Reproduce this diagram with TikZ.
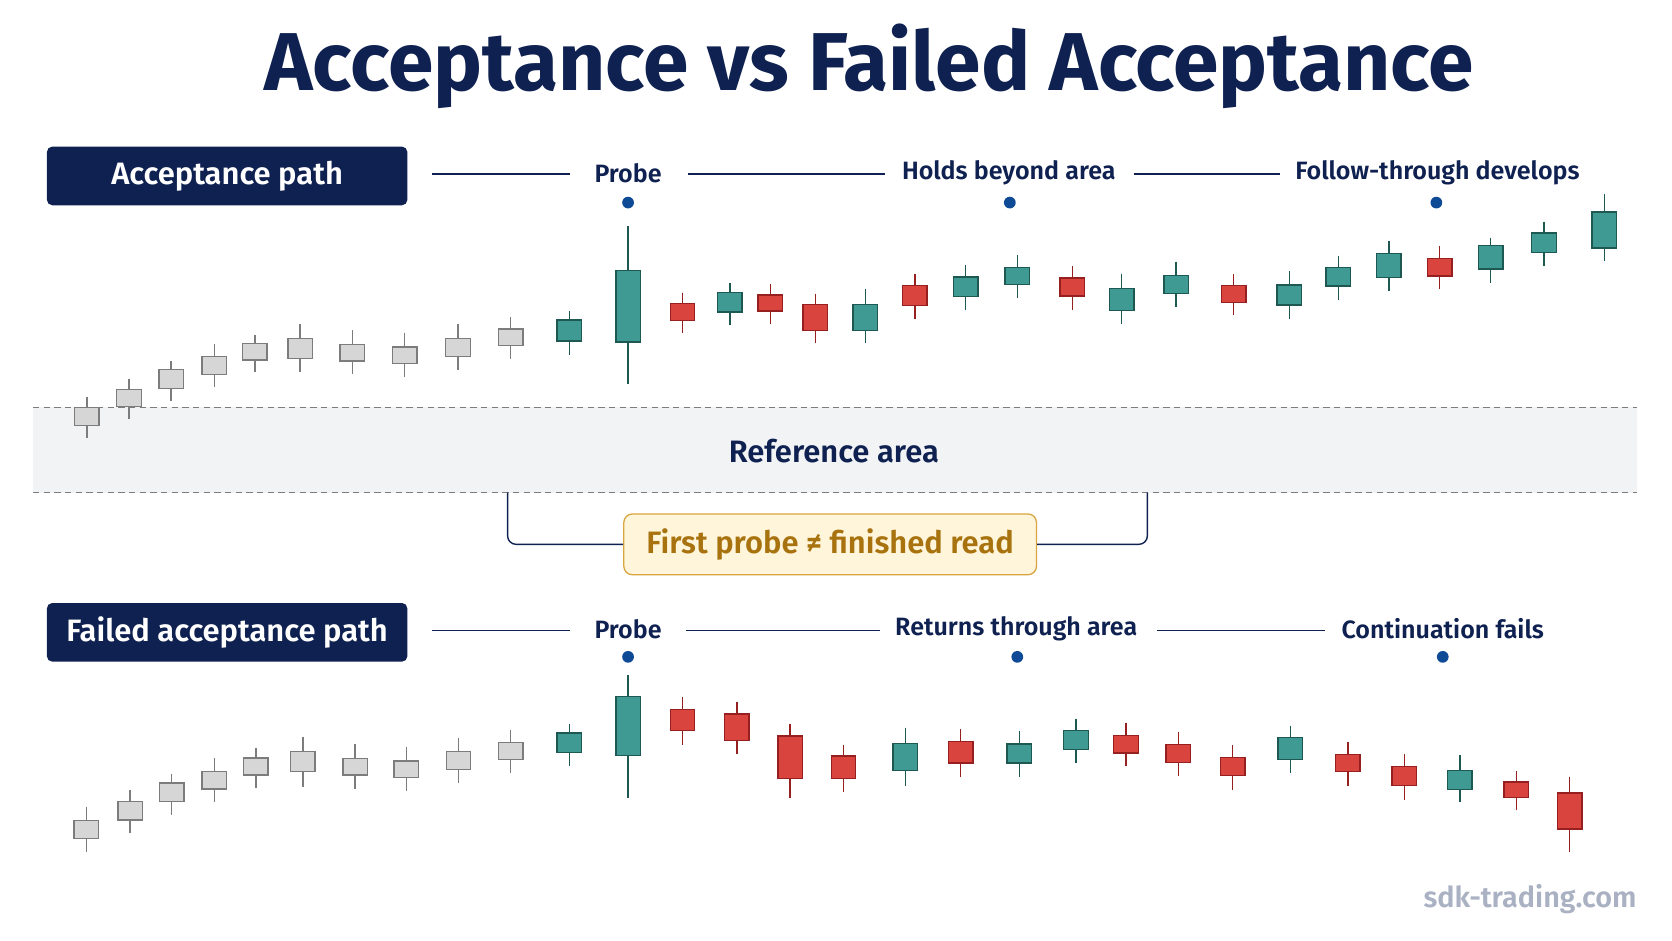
\documentclass[tikz,border=0pt]{standalone}
\usepackage{fontspec}
\setmainfont{Fira Sans}
\newfontface\semib{Fira Sans SemiBold}
\newfontface\fbold{Fira Sans Bold}
\definecolor{navy}{HTML}{0F2150}
\definecolor{dotblue}{HTML}{0E4A96}
\definecolor{tealf}{HTML}{3E9A92}
\definecolor{tealb}{HTML}{1E5853}
\definecolor{redf}{HTML}{D9443E}
\definecolor{redb}{HTML}{962020}
\definecolor{grayf}{HTML}{D6D6D6}
\definecolor{grayb}{HTML}{7C7C7C}
\definecolor{bandf}{HTML}{F2F3F5}
\definecolor{goldf}{HTML}{FFF5DA}
\definecolor{goldb}{HTML}{D8A640}
\definecolor{goldt}{HTML}{A8730F}
\definecolor{wm}{HTML}{A9B1C2}
\tikzset{
 G/.style={fill=grayf,draw=grayb},
 T/.style={fill=tealf,draw=tealb},
 R/.style={fill=redf,draw=redb},
 pathbox/.style={fill=navy,rounded corners=5pt,text=white,font=\semib\fontsize{29}{32}\selectfont,minimum width=338pt,minimum height=55pt,inner sep=0pt},
 lbl/.style={text=navy,font=\semib\fontsize{23.5}{26}\selectfont,inner sep=0pt},
 conn/.style={draw=navy,line width=1.3pt},
}
\newcommand\cand[6]{%
 \draw[#6,line width=1.3pt] (#1,#2) -- (#1,#5);
 \draw[#6,line width=1.3pt] ([xshift=-11.5pt]#1,#3) rectangle ([xshift=11.5pt]#1,#4);}
\begin{document}
\begin{tikzpicture}[x=1pt,y=-1pt]
\useasboundingbox[fill=white] (0,0) rectangle (1568,882);
\node[text=navy,font=\fbold\fontsize{77}{80}\selectfont] (title) at (815,62) {Acceptance vs Failed Acceptance};
% reference band
\fill[bandf] (31,382) rectangle (1535,462);
\draw[grayb,dashed,line width=1.2pt,dash pattern=on 6pt off 4pt] (31,382) -- (1535,382);
\draw[grayb,dashed,line width=1.2pt,dash pattern=on 6pt off 4pt] (31,462) -- (1535,462);
\node[text=navy,font=\semib\fontsize{29}{32}\selectfont] (ref) at (782,423) {Reference area};
% bracket
\node[fill=goldf,draw=goldb,line width=1.2pt,rounded corners=8pt,minimum width=387pt,minimum height=57pt,text=goldt,font=\semib\fontsize{29}{32}\selectfont] (fp) at (778.5,510.5) {First probe ≠ finished read};
\coordinate (bl) at (476,462); \coordinate (br) at (1076,462);
\draw[conn,rounded corners=8pt] (bl) |- (fp.west);
\draw[conn,rounded corners=8pt] (br) |- (fp.east);
% top labels
\node[pathbox] (ap) at (213,165) {Acceptance path};
\node[lbl] (p1) at (589,162) {Probe};
\node[lbl] (h1) at (946,162) {Holds beyond area};
\node[lbl] (f1) at (1348,162) {Follow-through develops};
\coordinate (a1) at (405,163); \coordinate (a2) at (535,163);
\coordinate (a3) at (645,163); \coordinate (a4) at (830,163);
\coordinate (a5) at (1063,163); \coordinate (a6) at (1200,163);
\draw[conn] (a1)--(a2); \draw[conn] (a3)--(a4); \draw[conn] (a5)--(a6);
\fill[dotblue] (589,190) circle (5.5pt) (947,190) circle (5.5pt) (1347,190) circle (5.5pt);
% bottom labels
\node[pathbox] (fa) at (213,593) {Failed acceptance path};
\node[lbl] (p2) at (589,590) {Probe};
\node[lbl] (r2) at (953,590) {Returns through area};
\node[lbl] (c2) at (1353,590) {Continuation fails};
\coordinate (b1) at (405,591); \coordinate (b2) at (535,591);
\coordinate (b3) at (643,591); \coordinate (b4) at (825,591);
\coordinate (b5) at (1085,591); \coordinate (b6) at (1243,591);
\draw[conn] (b1)--(b2); \draw[conn] (b3)--(b4); \draw[conn] (b5)--(b6);
\fill[dotblue] (589,616) circle (5.5pt) (954,616) circle (5.5pt) (1353,616) circle (5.5pt);
% top candles
\begin{scope}[shift={(0pt,-140.7pt)},x=0.5pt,y=-0.3126pt]
\cand{163}{740}{773}{826}{865}{G}
\cand{242}{686}{719}{770}{808}{G}
\cand{321}{633}{658}{716}{752}{G}
\cand{402}{583}{620}{673}{710}{G}
\cand{478}{556}{580}{630}{665}{G}
\cand{563}{522}{565}{625}{667}{G}
\cand{661}{540}{583}{633}{673}{G}
\cand{759}{548}{591}{640}{680}{G}
\cand{859}{523}{565}{619}{660}{G}
\cand{958}{502}{537}{587}{626}{G}
\cand{1068}{482}{510}{573}{616}{T}
\cand{1178}{228}{362}{576}{701}{T}
\cand{1280}{428}{461}{511}{550}{R}
\cand{1369}{399}{428}{486}{526}{T}
\cand{1445}{401}{435}{483}{523}{R}
\cand{1529}{431}{463}{541}{579}{R}
\end{scope}
\begin{scope}[shift={(784pt,-140.7pt)},x=0.5pt,y=-0.3126pt]
\cand{55}{416}{464}{541}{578}{T}
\cand{148}{372}{407}{466}{506}{R}
\cand{243}{346}{381}{439}{481}{T}
\cand{340}{314}{352}{403}{444}{T}
\cand{443}{348}{384}{438}{480}{R}
\cand{536}{371}{416}{482}{523}{T}
\cand{638}{335}{376}{431}{470}{T}
\cand{746}{372}{407}{457}{496}{R}
\cand{850}{363}{405}{465}{506}{T}
\cand{942}{317}{353}{408}{451}{T}
\cand{1037}{274}{311}{382}{423}{T}
\cand{1132}{288}{326}{378}{416}{R}
\cand{1228}{263}{286}{357}{398}{T}
\cand{1328}{215}{249}{308}{349}{T}
\cand{1441}{133}{186}{294}{332}{T}
\end{scope}
% bottom candles
\begin{scope}[shift={(0pt,-562.7pt)},x=1pt,y=-0.3126pt]
\cand{81}{622}{662}{715}{755}{G}
\cand{122}{570}{604}{660}{700}{G}
\cand{161}{522}{549}{605}{645}{G}
\cand{201}{474}{514}{567}{605}{G}
\cand{240}{445}{474}{525}{563}{G}
\cand{284}{410}{455}{515}{560}{G}
\cand{333}{432}{475}{525}{566}{G}
\cand{381}{440}{483}{533}{573}{G}
\cand{430}{413}{455}{509}{549}{G}
\cand{479}{391}{427}{478}{519}{G}
\cand{534}{371}{399}{458}{497}{T}
\cand{589}{226}{290}{467}{595}{T}
\cand{640}{292}{328}{392}{434}{R}
\cand{691}{305}{342}{421}{463}{R}
\cand{741}{372}{408}{536}{594}{R}
\cand{791}{435}{468}{536}{576}{R}
\cand{849}{383}{430}{512}{557}{T}
\cand{901}{388}{425}{489}{532}{R}
\cand{956}{393}{432}{489}{530}{T}
\cand{1009}{356}{391}{449}{490}{T}
\cand{1056}{368}{407}{459}{498}{R}
\cand{1105}{397}{434}{487}{528}{R}
\cand{1156}{436}{473}{526}{570}{R}
\cand{1210}{377}{412}{478}{520}{T}
\cand{1264}{426}{463}{515}{557}{R}
\cand{1317}{463}{499}{557}{599}{R}
\cand{1369}{466}{512}{568}{607}{T}
\cand{1422}{513}{546}{593}{630}{R}
\cand{1472}{530}{579}{687}{757}{R}
\end{scope}
\node[anchor=east,text=wm,font=\semib\fontsize{27}{30}\selectfont,inner sep=0pt] (wmk) at (1535,843) {sdk-trading.com};
\end{tikzpicture}
\end{document}
